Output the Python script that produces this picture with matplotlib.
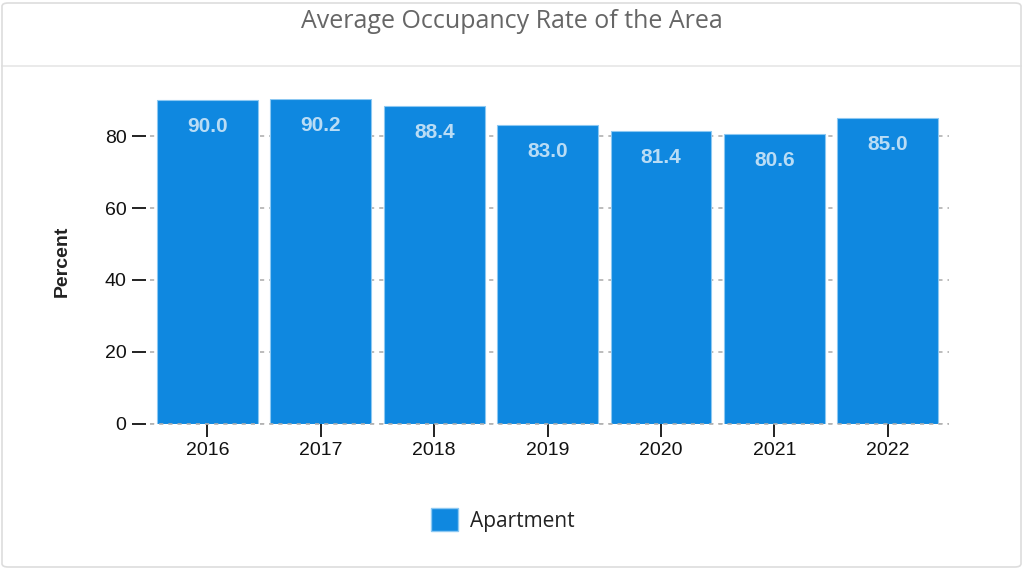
import matplotlib
matplotlib.use("Agg")
import matplotlib.pyplot as plt
from matplotlib.patches import FancyBboxPatch, Rectangle
from matplotlib.lines import Line2D

years = ["2016", "2017", "2018", "2019", "2020", "2021", "2022"]
values = [90.0, 90.2, 88.4, 83.0, 81.4, 80.6, 85.0]
series_name = "Apartment"
title = "Average Occupancy Rate of the Area"
ylabel = "Percent"

W, H = 1024, 569
fig = plt.figure(figsize=(W / 100, H / 100), dpi=100)
fig.patch.set_facecolor("white")

# card border
card = FancyBboxPatch((2 / W, 2 / H), (W - 5) / W, (H - 5) / H,
                      boxstyle="round,pad=0,rounding_size=0.006",
                      transform=fig.transFigure, facecolor="none",
                      edgecolor="#dddddd", linewidth=1.2, zorder=-1)
fig.patches.append(card)
fig.add_artist(Line2D([2 / W, (W - 3) / W], [1 - 66 / H, 1 - 66 / H],
                      transform=fig.transFigure, color="#e6e6e6", lw=1.2, zorder=-1))

fig.text(0.5, 1 - 21 / H, title, ha="center", va="center",
         fontsize=18, color="#666666", family="Open Sans")

left, right = 150 / W, 949 / W
bottom = 145 / H
ymax = 90.2
top_px = 424 - ymax * 3.6
ax = fig.add_axes([left, bottom, right - left, (424 - top_px) / H])
ax.set_facecolor("none")

color = "#0f88e0"
x = list(range(len(years)))
bars = ax.bar(x, values, width=0.89, color=color, edgecolor="#8cc8f2",
              linewidth=0.8, zorder=3, label=series_name)
for xi, v in zip(x, values):
    ax.text(xi, v - 7.4, f"{v:.1f}", ha="center", va="center", fontsize=15,
            fontweight="bold", color="#b9dcf5", family="Liberation Sans", zorder=4)

ax.set_xlim(-0.507, 6.54)
ax.set_ylim(0, ymax)
ax.set_yticks([0, 20, 40, 60, 80])
ax.set_xticks(x)
ax.set_xticklabels(years)
for s in ax.spines.values():
    s.set_visible(False)
ax.spines["left"].set_position(("outward", 3))
ax.spines["left"].set_visible(True)
ax.spines["left"].set_color("none")
ax.yaxis.grid(True, linestyle=(0, (2.5, 3)), color="#b0b0b0", linewidth=1.2, zorder=0)
ax.axhline(0, linestyle=(0, (2.5, 3)), color="#b0b0b0", linewidth=1.2, zorder=5,
           clip_on=False)
ax.tick_params(axis="y", length=10, width=1.4, color="#222222", pad=4,
               labelsize=14, labelcolor="#111111")
ax.tick_params(axis="x", length=9, width=1.4, color="#222222", pad=4,
               labelsize=14, labelcolor="#111111")
for lbl in ax.get_xticklabels() + ax.get_yticklabels():
    lbl.set_family("Liberation Sans")
ax.set_ylabel(ylabel, fontsize=14, fontweight="bold", family="Liberation Sans",
              color="#222222", labelpad=24)

leg = fig.legend(handles=[Rectangle((0, 0), 1, 1, facecolor=color, edgecolor="#8cc8f2")],
                 labels=[series_name], loc="center", bbox_to_anchor=(503 / W, 1 - 520 / H),
                 frameon=False, prop={"family": "Open Sans", "size": 15},
                 handlelength=1.3, handleheight=1.3, handletextpad=0.6)
for t in leg.get_texts():
    t.set_color("#222222")

fig.savefig("out.png", dpi=100, facecolor="white")
